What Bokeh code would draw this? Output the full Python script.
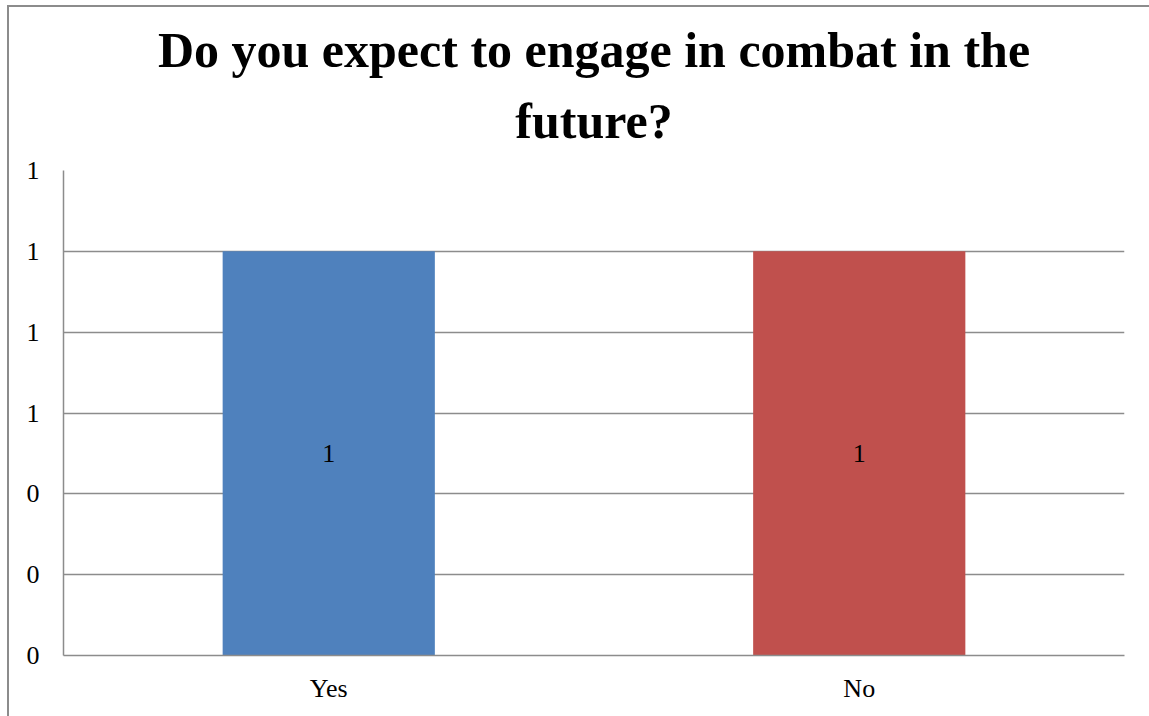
from bokeh.plotting import figure
from bokeh.models import ColumnDataSource, Title, PrintfTickFormatter, FixedTicker, LabelSet
from bokeh.embed import file_html
from bokeh.resources import INLINE

categories = ["Yes", "No"]
values = [1, 1]
bar_labels = ["1", "1"]
colors = ["#4F81BD", "#C0504D"]
y_ticks = [0, 0.2, 0.4, 0.6, 0.8, 1.0, 1.2]
title_lines = ["Do you expect to engage in combat in the", "future?"]

src = ColumnDataSource(dict(cat=categories, val=values, half=[v / 2 for v in values],
                            lab=bar_labels, color=colors))

FONT = "Liberation Serif"

p = figure(x_range=categories, y_range=(0, 1.2), width=1142, height=711,
           output_backend="svg", toolbar_location=None,
           min_border_left=54, min_border_right=27, min_border_bottom=63, min_border_top=163)
p.margin = (5, 0, 0, 7)
p.styles = {"border-left": "2px solid #8c8c8c", "border-top": "2px solid #8c8c8c",
            "box-sizing": "border-box"}

for i, line in enumerate(reversed(title_lines)):
    t = Title(text=line, align="center", text_font=FONT, text_font_size="50px",
              text_font_style="bold", text_color="black", standoff=-18 if i else 44)
    p.add_layout(t, "above")

p.vbar(x="cat", top="val", width=0.4, fill_color="color", line_color=None, source=src)
p.add_layout(LabelSet(x="cat", y="half", text="lab", source=src, text_align="center",
                      text_baseline="middle", text_font=FONT, text_font_size="26px",
                      text_color="black"))

p.outline_line_color = None
p.xgrid.grid_line_color = None
p.ygrid.grid_line_color = "#8c8c8c"
p.ygrid.grid_line_width = 1.5
p.yaxis.ticker = FixedTicker(ticks=y_ticks)
p.yaxis.formatter = PrintfTickFormatter(format="%.0f")
for ax in (p.xaxis[0], p.yaxis[0]):
    ax.axis_line_color = "#8c8c8c"
    ax.axis_line_width = 1.5
    ax.major_tick_line_color = None
    ax.minor_tick_line_color = None
    ax.major_label_text_font = FONT
    ax.major_label_text_font_size = "26px"
    ax.major_label_text_color = "black"
p.yaxis.major_label_standoff = 18
p.xaxis.major_label_standoff = 12
p.x_range.range_padding = 0

open("out.html", "w").write(file_html(p, INLINE))
